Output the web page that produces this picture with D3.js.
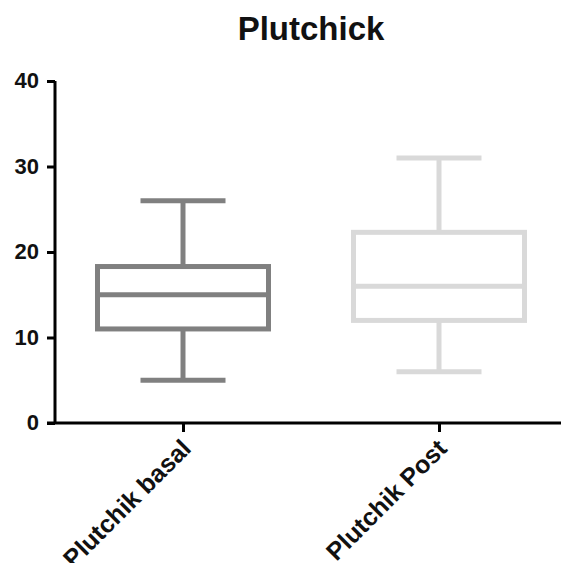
<!DOCTYPE html>
<html>
<head>
<meta charset="utf-8">
<script src="https://cdn.jsdelivr.net/npm/d3@7"></script>
<style>
  body { margin: 0; background: #fff; }
  svg text { font-family: "Liberation Sans", Arial, sans-serif; font-weight: bold; fill: #111; }
</style>
</head>
<body>
<svg class="box-plot" width="561" height="563"></svg>
<script>
// data
var categories = ['Plutchik basal', 'Plutchik Post'];
var minValues = [5, 6];
var q1Values = [11, 12];
var medianValues = [15, 16];
var q3Values = [18.3, 22.3];
var maxValues = [26, 31];
var boxColors = ['#808080', '#d9d9d9'];
var yTicks = [0, 10, 20, 30, 40];

var svg = d3.select('svg.box-plot');
var svgWidth = +svg.attr('width');

var padding = {t: 81, l: 55, b: 140};
var y0 = 423;

// scales
var xScale = d3.scalePoint().domain(categories).range([padding.l, 567]).padding(0.5);
var yScale = d3.scaleLinear().domain([0, 40]).range([y0, padding.t]);

var boxWidth = 171;
var capWidth = 85;

// title
svg.append('text')
    .attr('x', 311)
    .attr('y', 40)
    .attr('text-anchor', 'middle')
    .style('font-size', '33px')
    .text('Plutchick');

// boxes
var boxes = categories.map(function(c, i) {
    return {cat: c, min: minValues[i], q1: q1Values[i], med: medianValues[i],
            q3: q3Values[i], max: maxValues[i], color: boxColors[i]};
});

var boxG = svg.selectAll('.box')
    .data(boxes)
    .enter()
    .append('g')
    .attr('class', 'box')
    .attr('transform', function(d) { return 'translate(' + xScale(d.cat) + ',0)'; })
    .style('stroke', function(d) { return d.color; })
    .style('stroke-width', 5)
    .style('fill', 'none');

// whiskers
boxG.append('line')
    .attr('x1', 0).attr('x2', 0)
    .attr('y1', function(d) { return yScale(d.max); })
    .attr('y2', function(d) { return yScale(d.q3); });
boxG.append('line')
    .attr('x1', 0).attr('x2', 0)
    .attr('y1', function(d) { return yScale(d.q1); })
    .attr('y2', function(d) { return yScale(d.min); });
// caps
boxG.append('line')
    .attr('x1', -capWidth / 2).attr('x2', capWidth / 2)
    .attr('y1', function(d) { return yScale(d.max); })
    .attr('y2', function(d) { return yScale(d.max); });
boxG.append('line')
    .attr('x1', -capWidth / 2).attr('x2', capWidth / 2)
    .attr('y1', function(d) { return yScale(d.min); })
    .attr('y2', function(d) { return yScale(d.min); });
// box
boxG.append('rect')
    .attr('x', -boxWidth / 2)
    .attr('width', boxWidth)
    .attr('y', function(d) { return yScale(d.q3); })
    .attr('height', function(d) { return yScale(d.q1) - yScale(d.q3); });
// median
boxG.append('line')
    .attr('x1', -boxWidth / 2).attr('x2', boxWidth / 2)
    .attr('y1', function(d) { return yScale(d.med); })
    .attr('y2', function(d) { return yScale(d.med); });

// y axis
var yAxisG = svg.append('g')
    .attr('class', 'y axis')
    .attr('transform', 'translate(' + padding.l + ',0)')
    .call(d3.axisLeft(yScale).tickValues(yTicks).tickSize(8).tickPadding(8).tickSizeOuter(0));

// x axis
var xAxisG = svg.append('g')
    .attr('class', 'x axis')
    .attr('transform', 'translate(0,' + y0 + ')')
    .call(d3.axisBottom(xScale).tickSize(9).tickSizeOuter(0));

svg.selectAll('.axis path, .axis line')
    .style('stroke', '#000')
    .style('stroke-width', 3);
xAxisG.select('path.domain').attr('d', 'M' + (padding.l - 8) + ',0H' + svgWidth);
yAxisG.select('path.domain').attr('d', 'M0,' + padding.t + 'V' + y0);

yAxisG.selectAll('text')
    .style('font-size', '22px')
    .attr('dy', '0.3em');

xAxisG.selectAll('text')
    .style('font-size', '25px')
    .attr('text-anchor', 'end')
    .attr('x', 0).attr('y', 0).attr('dy', 0)
    .attr('transform', 'translate(9,27) rotate(-45)');

svg.selectAll('.axis text').style('fill', '#111');
</script>
</body>
</html>
